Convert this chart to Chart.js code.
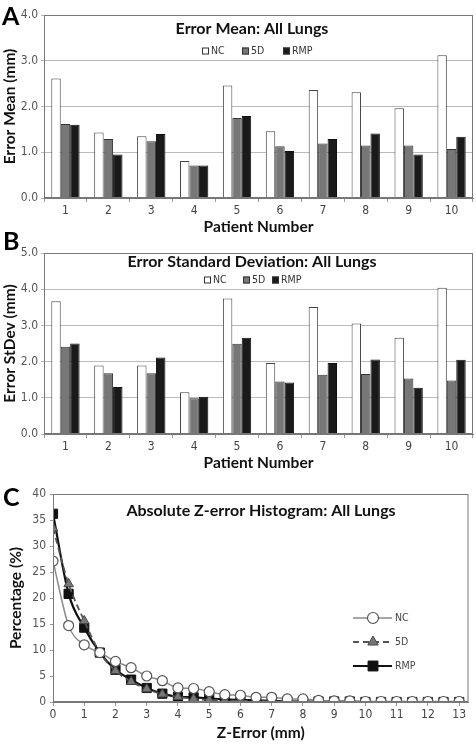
<!DOCTYPE html>
<html>
<head>
<meta charset="utf-8">
<script src="https://cdn.jsdelivr.net/npm/chart.js@4/dist/chart.umd.min.js"></script>
<style>
  html, body { margin: 0; padding: 0; background: #fff; }
  #page { position: relative; width: 476px; height: 746px; overflow: hidden; }
  .box { position: absolute; left: 0; width: 476px; }
  .tag { position: absolute; font: bold 25px Lato, sans-serif; color: #000; }
</style>
</head>
<body>
<div id="page">
  <div class="box" style="top:0;height:236px"><canvas id="chartA"></canvas></div>
  <div class="box" style="top:236px;height:236px"><canvas id="chartB"></canvas></div>
  <div class="box" style="top:472px;height:274px"><canvas id="chartC"></canvas></div>
  <div class="tag" style="left:2px;top:0px">A</div>
  <div class="tag" style="left:3px;top:225px">B</div>
  <div class="tag" style="left:3px;top:481px">C</div>
</div>
<script>
// data
const patients = ["1", "2", "3", "4", "5", "6", "7", "8", "9", "10"];
const seriesNames = ["NC", "5D", "RMP"];

const meanNC  = [2.61, 1.43, 1.35, 0.81, 2.46, 1.46, 2.36, 2.31, 1.96, 3.12];
const mean5D  = [1.62, 1.29, 1.24, 0.71, 1.75, 1.13, 1.19, 1.15, 1.15, 1.07];
const meanRMP = [1.60, 0.95, 1.40, 0.71, 1.79, 1.03, 1.29, 1.41, 0.95, 1.34];

const sdNC  = [3.67, 1.89, 1.89, 1.15, 3.74, 1.96, 3.51, 3.05, 2.66, 4.04];
const sd5D  = [2.41, 1.68, 1.68, 0.99, 2.49, 1.45, 1.64, 1.66, 1.53, 1.48];
const sdRMP = [2.50, 1.30, 2.11, 1.03, 2.66, 1.42, 1.96, 2.06, 1.28, 2.05];

const zError  = [0, 0.5, 1, 1.5, 2, 2.5, 3, 3.5, 4, 4.5, 5, 5.5, 6, 6.5, 7, 7.5, 8, 8.5, 9, 9.5, 10, 10.5, 11, 11.5, 12, 12.5, 13];
const histNC  = [27.1, 14.7, 11.0, 9.5, 7.8, 6.6, 5.0, 4.1, 2.7, 2.6, 2.0, 1.4, 1.3, 0.9, 0.9, 0.6, 0.6, 0.3, 0.2, 0.2, 0.1, 0.1, 0.1, 0.1, 0.1, 0.1, 0.1];
const hist5D  = [33.4, 22.7, 15.6, 9.5, 6.0, 3.9, 2.5, 1.5, 1.0, 0.6, 0.4, 0.3, 0.2, 0.2, 0.1, 0.1, 0.1, 0.1, 0.0, 0.0, 0.0, 0.0, 0.0, 0.0, 0.0, 0.0, 0.0];
const histRMP = [36.2, 20.8, 14.3, 9.5, 6.2, 4.3, 2.7, 1.6, 1.0, 0.9, 0.7, 0.5, 0.4, 0.3, 0.2, 0.1, 0.1, 0.1, 0.1, 0.1, 0.0, 0.0, 0.0, 0.0, 0.0, 0.0, 0.0];

const tickFont = { family: "'DejaVu Sans Condensed', 'DejaVu Sans', sans-serif", size: 12 };
const titleFont = { family: "Lato, sans-serif", size: 15.5, weight: "bold" };
const legendFontCss = "10.5px 'DejaVu Sans Condensed', 'DejaVu Sans', sans-serif";

// border around the plot, title and legend drawn inside the plot area
const panelText = {
  id: "panelText",
  afterDraw(chart, args, opts) {
    const { ctx, chartArea: { left, top, right, bottom } } = chart;
    ctx.save();
    ctx.strokeStyle = "#777";
    ctx.lineWidth = 1;
    ctx.strokeRect(left + 0.5, top + 0.5, right - left - 1, bottom - top - 1);

    ctx.font = "bold 16px Lato, sans-serif";
    ctx.fillStyle = "#111";
    ctx.textAlign = "center";
    ctx.textBaseline = "middle";
    ctx.fillText(opts.title, opts.titleX, top + opts.titleDy);

    ctx.font = legendFontCss;
    ctx.textAlign = "left";
    chart.data.datasets.forEach((ds, i) => {
      if (opts.vertical) {
        const cx = opts.legendX;
        const cy = top + opts.legendY[i];
        ctx.strokeStyle = ds.borderColor;
        ctx.lineWidth = ds.borderWidth;
        ctx.setLineDash(ds.borderDash || []);
        ctx.beginPath();
        ctx.moveTo(cx - 20, cy);
        ctx.lineTo(cx + 19, cy);
        ctx.stroke();
        ctx.setLineDash([]);
        ctx.fillStyle = ds.pointBackgroundColor;
        ctx.strokeStyle = ds.pointBorderColor;
        ctx.lineWidth = ds.pointBorderWidth;
        Chart.helpers.drawPoint(ctx, { pointStyle: ds.pointStyle, radius: ds.pointRadius + 0.5, borderWidth: ds.pointBorderWidth, rotation: 0 }, cx, cy);
        ctx.fillStyle = "#444";
        ctx.fillText(ds.label, cx + 22, cy);
      } else {
        const x = opts.legendX[i];
        const y = top + opts.legendY;
        ctx.fillStyle = ds.backgroundColor;
        ctx.fillRect(x, y - 3.5, 7, 7);
        ctx.strokeStyle = "#333";
        ctx.lineWidth = 1;
        ctx.strokeRect(x + 0.5, y - 3, 6, 6);
        ctx.fillStyle = "#333";
        ctx.fillText(ds.label, x + 9, y);
      }
    });
    ctx.restore();
  }
};

function barDatasets(nc, d5, rmp) {
  return [
    { label: seriesNames[0], data: nc,  backgroundColor: "#ffffff", borderColor: "#444", borderWidth: 1 },
    { label: seriesNames[1], data: d5,  backgroundColor: "#777777", borderColor: "#333", borderWidth: 1 },
    { label: seriesNames[2], data: rmp, backgroundColor: "#1a1a1a", borderColor: "#111", borderWidth: 1 }
  ];
}

function barChart(id, datasets, yMax, yTitle, titleOpts, axisWidth, top) {
  return new Chart(document.getElementById(id), {
    type: "bar",
    data: { labels: patients, datasets: datasets },
    options: {
      responsive: true,
      maintainAspectRatio: false,
      animation: false,
      layout: { padding: { top: top, right: 3, left: 0, bottom: 0 } },
      datasets: { bar: { categoryPercentage: 0.66, barPercentage: 1.0 } },
      plugins: { legend: { display: false }, tooltip: { enabled: false }, panelText: titleOpts },
      scales: {
        x: {
          grid: { drawOnChartArea: false, tickLength: 4, color: "#999", offset: true },
          border: { color: "#777" },
          ticks: { font: tickFont, color: "#444", padding: 2 },
          title: { display: true, text: "Patient Number", font: titleFont, color: "#111", padding: { top: 0, bottom: 0 } },
          afterFit: (s) => { s.height = 38; }
        },
        y: {
          min: 0,
          max: yMax,
          grid: { color: "#bbb", tickLength: 3 },
          border: { color: "#777" },
          ticks: { stepSize: 1, font: tickFont, color: "#555", padding: 3, callback: (v) => v.toFixed(1) },
          title: { display: true, text: yTitle, font: titleFont, color: "#111", padding: { top: 1, bottom: 0 } },
          afterFit: (s) => { s.width = axisWidth; }
        }
      }
    },
    plugins: [panelText]
  });
}

barChart("chartA", barDatasets(meanNC, mean5D, meanRMP), 4, "Error Mean (mm)",
  { title: "Error Mean: All Lungs", titleX: 252, titleDy: 14, legendX: [202, 242, 283], legendY: 36 }, 44, 15);

barChart("chartB", barDatasets(sdNC, sd5D, sdRMP), 5, "Error StDev (mm)",
  { title: "Error Standard Deviation: All Lungs", titleX: 252, titleDy: 9, legendX: [204, 243, 272], legendY: 27 }, 44, 17);

function pts(ys) {
  return zError.map((x, i) => ({ x: x, y: ys[i] }));
}

new Chart(document.getElementById("chartC"), {
  type: "line",
  data: {
    datasets: [
      { label: seriesNames[0], data: pts(histNC), borderColor: "#8a8a8a", borderWidth: 1.5,
        pointStyle: "circle", pointRadius: 5, pointBackgroundColor: "#ffffff", pointBorderColor: "#555", pointBorderWidth: 1.2 },
      { label: seriesNames[1], data: pts(hist5D), borderColor: "#555", borderWidth: 1.8, borderDash: [6, 4],
        pointStyle: "triangle", pointRadius: 5.5, pointBackgroundColor: "#777", pointBorderColor: "#444", pointBorderWidth: 1 },
      { label: seriesNames[2], data: pts(histRMP), borderColor: "#111", borderWidth: 2.2,
        pointStyle: "rect", pointRadius: 6.5, pointBackgroundColor: "#111", pointBorderColor: "#111", pointBorderWidth: 1 }
    ]
  },
  options: {
    responsive: true,
    maintainAspectRatio: false,
    animation: false,
    layout: { padding: { top: 22, right: 6, left: 0, bottom: 0 } },
    elements: { line: { cubicInterpolationMode: "monotone" } },
    plugins: {
      legend: { display: false },
      tooltip: { enabled: false },
      panelText: { title: "Absolute Z-error Histogram: All Lungs", titleX: 261, titleDy: 17, vertical: true, legendX: 373, legendY: [124, 148, 172] }
    },
    scales: {
      x: {
        type: "linear",
        min: 0,
        max: 13.3,
        grid: { drawOnChartArea: false, tickLength: 4, color: "#999" },
        border: { color: "#777" },
        ticks: { stepSize: 1, includeBounds: false, font: tickFont, color: "#444", padding: 2 },
        title: { display: true, text: "Z-Error (mm)", font: titleFont, color: "#111", padding: { top: 0, bottom: 4 } },
        afterFit: (s) => { s.height = 44; }
      },
      y: {
        min: 0,
        max: 40,
        grid: { drawOnChartArea: false, tickLength: 3, color: "#999" },
        border: { color: "#777" },
        ticks: { stepSize: 5, font: tickFont, color: "#555", padding: 4 },
        title: { display: true, text: "Percentage (%)", font: titleFont, color: "#111", padding: { top: 7, bottom: 0 } },
        afterFit: (s) => { s.width = 53; }
      }
    }
  },
  plugins: [panelText]
});
</script>
</body>
</html>
